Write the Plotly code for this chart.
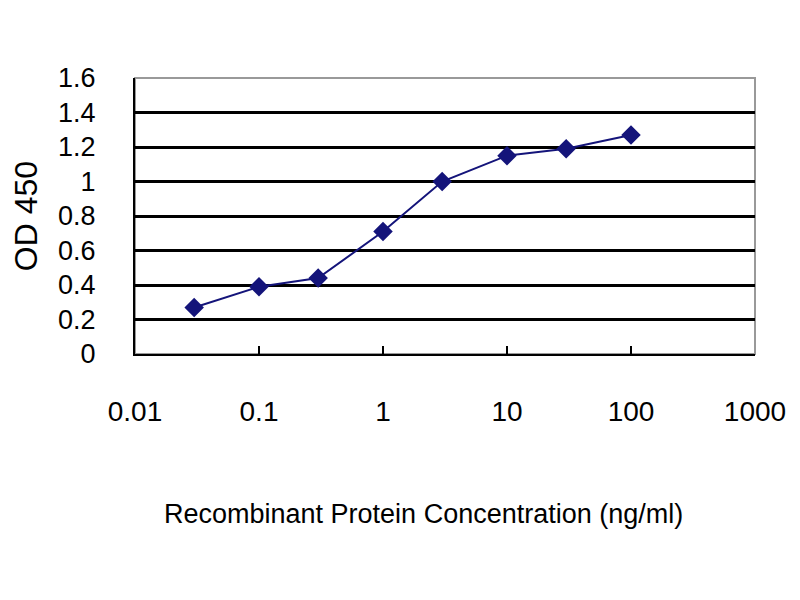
import plotly.graph_objects as go

# concentration (ng/ml) and OD 450 readings
conc = [0.03, 0.1, 0.3, 1, 3, 10, 30, 100]
od450 = [0.27, 0.39, 0.44, 0.71, 1.0, 1.15, 1.19, 1.27]

x_ticks = [0.01, 0.1, 1, 10, 100, 1000]
x_labels = ["0.01", "0.1", "1", "10", "100", "1000"]
y_ticks = [0, 0.2, 0.4, 0.6, 0.8, 1, 1.2, 1.4, 1.6]
y_labels = ["0", "0.2", "0.4", "0.6", "0.8", "1", "1.2", "1.4", "1.6"]

font = "Liberation Sans, Arial, sans-serif"

fig = go.Figure()
fig.add_trace(go.Scatter(
    x=conc, y=od450, mode="lines+markers",
    line=dict(color="#14147a", width=2),
    marker=dict(symbol="diamond", size=15, color="#14147a"),
    showlegend=False,
))

# grey frame on top/right like the excel plot area
fig.add_shape(type="rect", xref="paper", yref="paper", x0=0, y0=0, x1=1, y1=1,
              line=dict(color="#999999", width=2), layer="below")

# x title sits a bit left of the plot centre in the original
fig.add_annotation(text="Recombinant Protein Concentration (ng/ml)",
                   xref="paper", yref="paper", x=0.465, y=-0.58,
                   xanchor="center", yanchor="middle", showarrow=False,
                   font=dict(size=27))

fig.update_layout(
    width=800, height=600,
    paper_bgcolor="white", plot_bgcolor="white",
    margin=dict(l=127, r=53, t=70, b=254, autoexpand=False),
    font=dict(family=font, color="black", size=24),
)
fig.update_xaxes(
    type="log", range=[-2, 3],
    tickvals=x_ticks, ticktext=x_labels,
    tickfont=dict(size=28),
    showgrid=False, zeroline=False,
    showline=True, linecolor="black", linewidth=2,
    ticks="inside", ticklen=8, tickwidth=2, tickcolor="black",
    ticklabelstandoff=31, automargin=False,
)
fig.update_yaxes(
    range=[0, 1.6],
    tickvals=y_ticks, ticktext=y_labels,
    tickfont=dict(size=27),
    showgrid=True, gridcolor="black", gridwidth=2.5,
    zeroline=False,
    showline=True, linecolor="black", linewidth=2,
    ticks="", ticklabelstandoff=32, automargin=False,
    title=dict(text="OD 450", font=dict(size=32), standoff=18),
)

fig.write_html("out.html")
